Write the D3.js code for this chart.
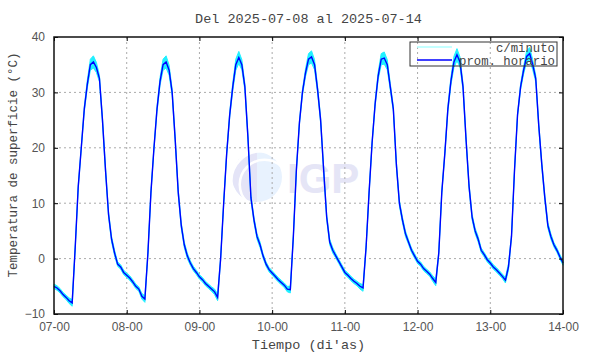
<!DOCTYPE html>
<html>
<head>
<meta charset="utf-8">
<script src="https://cdn.jsdelivr.net/npm/d3@7"></script>
<style>
  body { margin: 0; background: #fff; }
  svg { display: block; font-family: "Liberation Mono", "DejaVu Sans Mono", monospace; }
  .axis path { display: none; }
  .axis text { fill: #555; font-size: 12px; }
  .axis line { stroke: #000; }
</style>
</head>
<body>
<div id="chart"></div>
<script>
// promedio horario, una fila por dia (horas 00..23)
var dia07 = [-5.0, -5.3, -5.8, -6.5, -7.0, -7.6, -8.0, 2.0, 13.0, 20.0, 27.0, 31.5, 35.0, 35.5, 34.5, 32.5, 25.0, 16.0, 8.0, 3.5, 1.0, -1.0, -1.5, -2.5];
var dia08 = [-3.0, -3.5, -4.2, -5.0, -5.5, -6.8, -7.3, 1.0, 12.0, 20.0, 27.0, 32.0, 35.0, 35.5, 34.0, 30.0, 21.5, 12.0, 6.0, 2.5, 0.5, -0.8, -1.8, -2.5];
var dia09 = [-3.3, -3.8, -4.5, -5.0, -5.5, -6.0, -7.0, 0.0, 10.0, 19.0, 26.0, 31.0, 35.0, 36.3, 35.0, 31.0, 22.0, 11.0, 7.0, 4.0, 2.5, 0.5, -1.0, -2.0];
var dia10 = [-2.6, -3.2, -3.8, -4.3, -4.8, -5.5, -5.6, 4.0, 16.0, 24.5, 30.0, 33.5, 36.0, 36.4, 35.0, 30.5, 25.0, 16.0, 7.5, 3.0, 1.5, 0.5, -0.5, -1.5];
var dia11 = [-2.5, -3.0, -3.6, -4.1, -4.5, -5.0, -5.3, 2.0, 12.0, 21.0, 28.0, 33.0, 36.0, 36.2, 35.0, 31.0, 27.0, 17.0, 10.0, 7.0, 4.5, 3.0, 1.5, 0.5];
var dia12 = [-0.5, -1.0, -1.8, -2.3, -2.8, -3.6, -4.3, 1.0, 12.0, 19.0, 27.0, 32.0, 35.5, 36.8, 35.5, 31.0, 21.5, 13.0, 7.5, 5.0, 3.5, 1.5, 0.7, -0.2];
var dia13 = [-0.8, -1.5, -2.0, -2.6, -3.2, -3.9, -1.5, 4.0, 16.0, 26.0, 31.0, 34.0, 36.5, 37.0, 35.0, 32.5, 24.0, 17.0, 11.0, 6.0, 4.0, 2.5, 1.5, 0.3];
var final14 = [-0.8];

// amplitud tipica de la serie por minuto alrededor del promedio (por hora del dia)
var dispersionHora = [0.4, 0.4, 0.4, 0.4, 0.4, 0.5, 0.6, 0.3, 0.3, 0.3, 0.5, 0.7, 1.0, 1.1, 0.9, 0.6, 0.5, 0.5, 0.5, 0.5, 0.5, 0.4, 0.4, 0.4];

var etiquetasX = ["07-00", "08-00", "09-00", "10-00", "11-00", "12-00", "13-00", "14-00"];
var ticksY = [-10, 0, 10, 20, 30, 40];

var horario = [].concat(dia07, dia08, dia09, dia10, dia11, dia12, dia13, final14);
var data = horario.map(function(v, i) { return {h: i, v: v, d: dispersionHora[i % 24]}; });

var width = 590, height = 354,
    margin = {top: 37, right: 27, bottom: 40, left: 54},
    w = width - margin.left - margin.right,
    h = height - margin.top - margin.bottom;

var svg = d3.select("#chart").append("svg")
    .attr("width", width)
    .attr("height", height);

var x = d3.scaleLinear().domain([0, 168]).range([0, w]);
var y = d3.scaleLinear().domain([-10, 40]).range([h, 0]);
var xTicks = etiquetasX.map(function(d, i) { return i * 24; });

var g = svg.append("g").attr("transform", "translate(" + margin.left + "," + margin.top + ")");

// marca de agua IGP
var wm = g.append("g").attr("transform", "translate(203,140)");
wm.append("circle").attr("r", 25).attr("fill", "#e8f2fe");
wm.append("path").attr("d", "M-25,0 A25,25 0 0,1 0,-25 L0,25 A25,25 0 0,1 -25,0Z").attr("fill", "#e4e4f7");
[10, 17, 24].forEach(function(r) {
  wm.append("path")
    .attr("d", "M" + (-r) + ",25 A" + (r + 6) + "," + (r + 6) + " 0 0,1 25," + (-r))
    .attr("fill", "none").attr("stroke", "#fff").attr("stroke-width", 2.5);
});
g.append("text")
    .attr("x", 233).attr("y", 156)
    .attr("font-family", "Liberation Sans, Arial, sans-serif")
    .attr("font-weight", "bold")
    .attr("font-size", 42)
    .attr("fill", "#e5e5f6")
    .text("IGP");

// grilla punteada
g.append("g").selectAll("line")
    .data(xTicks.slice(1, -1))
    .enter().append("line")
      .attr("x1", x).attr("x2", x)
      .attr("y1", 0).attr("y2", h)
      .attr("stroke", "#aaa").attr("stroke-dasharray", "2,3");
g.append("g").selectAll("line")
    .data(ticksY.slice(1, -1))
    .enter().append("line")
      .attr("y1", y).attr("y2", y)
      .attr("x1", 0).attr("x2", w)
      .attr("stroke", "#aaa").attr("stroke-dasharray", "2,3");

// serie por minuto (banda)
var banda = d3.area()
    .x(function(d) { return x(d.h); })
    .y0(function(d) { return y(d.v - d.d); })
    .y1(function(d) { return y(d.v + d.d); });
g.append("path")
    .datum(data)
    .attr("d", banda)
    .attr("fill", "#20f0ff")
    .attr("stroke", "#20f0ff")
    .attr("stroke-width", 1);

// promedio horario
var linea = d3.line()
    .x(function(d) { return x(d.h); })
    .y(function(d) { return y(d.v); });
g.append("path")
    .datum(data)
    .attr("d", linea)
    .attr("fill", "none")
    .attr("stroke", "#0000ff")
    .attr("stroke-width", 1.4);

// ejes
g.append("g")
    .attr("class", "axis")
    .attr("transform", "translate(0," + h + ")")
    .call(d3.axisBottom(x).tickValues(xTicks)
      .tickFormat(function(d, i) { return etiquetasX[i]; })
      .tickSizeInner(-4).tickSizeOuter(0).tickPadding(8.5));
g.append("g")
    .attr("class", "axis")
    .call(d3.axisTop(x).tickValues(xTicks).tickFormat("").tickSizeInner(-4).tickSizeOuter(0));
g.append("g")
    .attr("class", "axis")
    .call(d3.axisLeft(y).tickValues(ticksY).tickSizeInner(-4).tickSizeOuter(0).tickPadding(9));
g.append("g")
    .attr("class", "axis")
    .attr("transform", "translate(" + w + ",0)")
    .call(d3.axisRight(y).tickValues(ticksY).tickFormat("").tickSizeInner(-4).tickSizeOuter(0));

g.append("rect")
    .attr("width", w).attr("height", h)
    .attr("fill", "none").attr("stroke", "#111").attr("stroke-width", 1.5);

// leyenda
var legend = g.append("g").attr("transform", "translate(356,5)");
legend.append("rect")
    .attr("width", 147).attr("height", 24)
    .attr("fill", "none").attr("stroke", "#333").attr("stroke-width", 1);
var items = [{t: "c/minuto", c: "#b0ffff"}, {t: "prom. horario", c: "#0000ff"}];
var it = legend.selectAll("g.item").data(items).enter().append("g")
    .attr("transform", function(d, i) { return "translate(0," + (5 + i * 13) + ")"; });
it.append("line").attr("x1", 7).attr("x2", 42).attr("y1", 0).attr("y2", 0)
    .attr("stroke", function(d) { return d.c; }).attr("stroke-width", 1.5);
it.append("text").attr("x", 145).attr("y", 4.5)
    .attr("text-anchor", "end").attr("font-size", 12.3).attr("fill", "#454545")
    .text(function(d) { return d.t; });

// titulos
svg.append("text")
    .attr("x", margin.left + w / 2).attr("y", 23)
    .attr("text-anchor", "middle").attr("font-size", 13.5).attr("fill", "#454545")
    .text("Del 2025-07-08 al 2025-07-14");
svg.append("text")
    .attr("x", margin.left + w / 2).attr("y", 349)
    .attr("text-anchor", "middle").attr("font-size", 13.5).attr("fill", "#454545")
    .text("Tiempo (di'as)");
svg.append("text")
    .attr("transform", "translate(17,165) rotate(-90)")
    .attr("text-anchor", "middle").attr("font-size", 12.5).attr("fill", "#454545")
    .text("Temperatura de superficie (°C)");
</script>
</body>
</html>
